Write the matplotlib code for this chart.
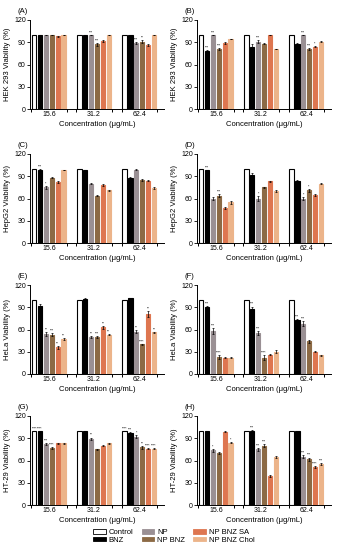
import numpy as np
import matplotlib
matplotlib.use("Agg")
import matplotlib.pyplot as plt
from matplotlib.patches import Patch

# %%
# Data (viability %, groups = concentrations)
concentrations = ["15.6", "31.2", "62.4"]
treatments = ["Control", "BNZ", "NP", "NP BNZ", "NP BNZ SA", "NP BNZ Chol"]
colors = ["white", "black", "#9a9094", "#8c6a45", "#de7650", "#ecb48a"]

panel_labels = ["(A)", "(B)", "(C)", "(D)", "(E)", "(F)", "(G)", "(H)"]
ylabels = ["HEK 293 Viability (%)", "HEK 293 Viability (%)",
           "HepG2 Viability (%)", "HepG2 Viability (%)",
           "HeLa Viability (%)", "HeLa Viability (%)",
           "HT-29 Viability (%)", "HT-29 Viability (%)"]

# rows = concentration, columns = treatment
vals_A = [[100, 100, 100, 100, 98, 100],
          [100, 100, 100, 87, 92, 100],
          [100, 100, 89, 91, 86, 100]]
vals_B = [[100, 78, 100, 81, 89, 94],
          [100, 84, 91, 88, 100, 81],
          [100, 87, 100, 81, 84, 91]]
vals_C = [[100, 99, 75, 88, 82, 98],
          [100, 98, 80, 64, 78, 71],
          [100, 88, 99, 85, 84, 74]]
vals_D = [[100, 98, 60, 64, 47, 55],
          [100, 92, 60, 75, 83, 70],
          [100, 83, 60, 71, 65, 80]]
vals_E = [[100, 92, 54, 53, 36, 47],
          [100, 101, 50, 50, 63, 53],
          [100, 102, 57, 40, 81, 56]]
vals_F = [[100, 90, 58, 23, 22, 22],
          [100, 88, 55, 22, 26, 30],
          [100, 73, 68, 44, 30, 25]]
vals_G = [[100, 100, 82, 77, 83, 83],
          [100, 100, 89, 75, 80, 83],
          [100, 97, 92, 78, 76, 76]]
vals_H = [[100, 100, 74, 70, 99, 84],
          [100, 100, 75, 80, 39, 65],
          [100, 100, 65, 62, 51, 55]]

errs_A = [[0, 0, 0, 0, 1, 0], [0, 0, 0, 2, 1, 0], [0, 0, 1, 2, 1, 0]]
errs_B = [[0, 2, 0, 1, 1, 0], [0, 4, 2, 1, 0, 0], [0, 2, 0, 1, 1, 1]]
errs_C = [[0, 1, 2, 1, 1, 0], [0, 1, 1, 1, 1, 1], [0, 1, 1, 1, 1, 1]]
errs_D = [[0, 1, 2, 2, 1, 2], [0, 3, 3, 1, 1, 1], [0, 2, 2, 2, 1, 1]]
errs_E = [[0, 2, 3, 2, 2, 1], [0, 1, 1, 1, 2, 1], [0, 1, 2, 1, 4, 1]]
errs_F = [[0, 2, 4, 3, 1, 1], [0, 3, 3, 3, 1, 2], [0, 1, 3, 2, 1, 1]]
errs_G = [[0, 0, 1, 1, 1, 1], [0, 0, 2, 1, 1, 1], [0, 1, 2, 2, 1, 1]]
errs_H = [[0, 0, 2, 1, 1, 1], [0, 1, 2, 2, 1, 1], [0, 0, 2, 2, 1, 1]]

stars_A = [["", "", "", "", "", ""], ["", "", "***", "***", "", ""], ["", "", "***", "**", "", ""]]
stars_B = [["", "***", "***", "***", "", ""], ["", "", "***", "", "", ""], ["", "", "***", "***", "*", ""]]
stars_C = [["", "***", "*", "", "", ""], ["", "", "", "", "", ""], ["", "", "", "", "", ""]]
stars_D = [["", "***", "", "***", "", ""], ["", "", "*", "", "", ""], ["", "", "*", "*", "", ""]]
stars_E = [["", "", "**", "***", "**", "**"], ["", "", "**", "***", "**", "**"], ["", "", "**", "****", "**", "**"]]
stars_F = [["", "***", "***", "****", "", ""], ["", "***", "***", "****", "", ""], ["", "***", "***", "", "", ""]]
stars_G = [["****", "****", "***", "****", "", ""], ["", "", "**", "", "", ""], ["****", "***", "*", "**", "****", "****"]]
stars_H = [["", "", "*", "", "", "*"], ["", "***", "***", "***", "", ""], ["", "", "***", "***", "****", "***"]]

all_vals = [vals_A, vals_B, vals_C, vals_D, vals_E, vals_F, vals_G, vals_H]
all_errs = [errs_A, errs_B, errs_C, errs_D, errs_E, errs_F, errs_G, errs_H]
all_stars = [stars_A, stars_B, stars_C, stars_D, stars_E, stars_F, stars_G, stars_H]

# %%
# Figure
plt.rcParams["font.family"] = ["Liberation Sans", "DejaVu Sans"]
fig = plt.figure(figsize=(3.38, 5.5), dpi=100)

W, H = 338.0, 550.0
col_left = [30, 197]
ax_w = 134
row_bottom = [109, 243, 374, 505]
ax_h = 89

step = 0.13
w = 0.095
x = np.arange(len(concentrations))

for k in range(8):
    r, c = divmod(k, 2)
    ax = fig.add_axes([col_left[c] / W, 1 - row_bottom[r] / H, ax_w / W, ax_h / H])
    v = np.array(all_vals[k])
    e = np.array(all_errs[k])
    for i, t in enumerate(treatments):
        xi = x + (i - 2.5) * step
        ax.bar(xi, v[:, i], width=w, color=colors[i], edgecolor="black" if i < 2 else colors[i],
               linewidth=0.8, zorder=2)
        ax.errorbar(xi, v[:, i], yerr=e[:, i], fmt="none", ecolor="black",
                    elinewidth=0.5, capsize=0.8, capthick=0.5, zorder=3)
        for g in range(len(concentrations)):
            s = all_stars[k][g][i]
            if s:
                ax.text(xi[g], v[g, i] + e[g, i] + 0.5, s, ha="center", va="bottom",
                        fontsize=2.5, color="black")

    ax.set_xlim(-0.42, 2.55)
    ax.set_ylim(0, 120)
    ax.set_yticks([0, 30, 60, 90, 120])
    ax.set_xticks(x)
    ax.set_xticklabels(concentrations)
    edges = np.concatenate([x - 3 * step, x + 3 * step])
    ax.set_xticks(edges, minor=True)
    ax.tick_params(axis="x", which="major", length=0, labelsize=5, pad=1.5)
    ax.tick_params(axis="x", which="minor", length=2.5, width=0.7)
    ax.tick_params(axis="y", length=2, width=0.6, labelsize=5, pad=1)
    for side in ["top", "right"]:
        ax.spines[side].set_visible(False)
    for side in ["left", "bottom"]:
        ax.spines[side].set_linewidth(0.7)
    ax.set_ylabel(ylabels[k], fontsize=5.5, labelpad=2)
    ax.set_xlabel("Concentration (\u03bcg/mL)", fontsize=5.5, labelpad=2)
    ax.text(-0.09, 1.06, panel_labels[k], transform=ax.transAxes, fontsize=5.5,
            ha="left", va="bottom")

handles = [Patch(facecolor=colors[i], edgecolor="black" if i < 2 else colors[i], linewidth=0.6)
           for i in range(len(treatments))]
fig.legend(handles, treatments, loc="lower left", bbox_to_anchor=(88 / W, 1 / H),
           ncol=3, fontsize=5.5, frameon=False, handlelength=1.6, handleheight=0.6,
           columnspacing=1.1, labelspacing=0.05, handletextpad=0.4, borderpad=0.2)

fig.savefig("out.png", dpi=100)
